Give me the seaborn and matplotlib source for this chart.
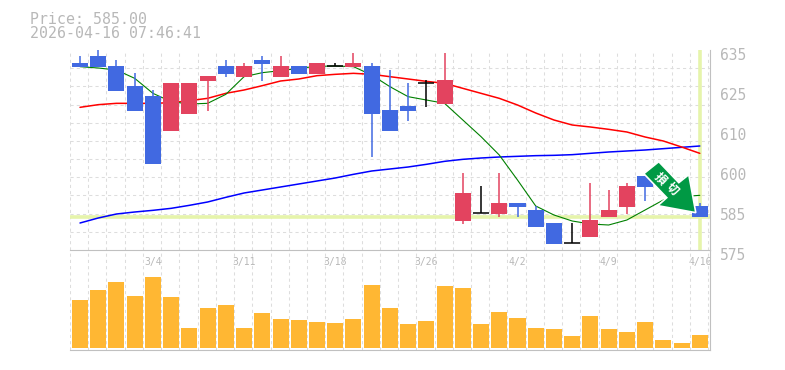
import numpy as np
import pandas as pd
import matplotlib.pyplot as plt
import seaborn as sns
from matplotlib.patches import Polygon
from matplotlib.transforms import IdentityTransform, ScaledTranslation

dates = ['3/4', '3/11', '3/18', '3/26', '4/2', '4/9', '4/16']
date_idx = [4, 9, 14, 19, 24, 29, 34]
price_ticks = [635, 623, 611, 599, 587, 575]
price_labels = ['635', '625', '610', '600', '585', '575']

open_ = [631.1, 633.2, 630.2, 624.2, 621.2, 610.7, 615.8, 625.7, 630.2, 626.9, 632.0, 626.9,
         630.2, 627.8, 630.2, 629.9, 630.2, 617.0, 618.2, 625.1, 618.8, 583.7, 586.0, 585.8,
         589.1, 587.0, 583.1, 577.0, 578.9, 584.9, 587.9, 597.2, 597.0, 589.0, 588.2]
close_ = [629.9, 629.9, 622.7, 616.7, 600.8, 625.1, 625.1, 627.2, 627.8, 630.2, 630.8, 630.2,
          627.8, 631.1, 630.2, 631.1, 615.8, 610.7, 616.7, 625.1, 626.0, 592.1, 586.0, 589.1,
          587.9, 581.9, 576.8, 577.0, 584.0, 587.0, 594.2, 593.9, 595.5, 588.0, 584.9]
high = [633.2, 635.0, 632.0, 628.1, 623.0, 625.1, 625.1, 627.2, 632.0, 631.1, 633.2, 633.2,
        630.2, 631.1, 631.1, 634.1, 631.1, 629.0, 625.1, 626.0, 634.1, 598.1, 594.2, 598.1,
        589.1, 588.2, 583.1, 583.1, 595.1, 593.0, 595.1, 597.2, 597.5, 589.0, 589.1]
low = [629.9, 629.9, 622.7, 616.7, 600.8, 610.7, 615.8, 616.7, 627.0, 626.9, 625.7, 626.9,
       627.8, 627.8, 630.2, 629.9, 602.9, 610.7, 613.7, 618.0, 618.8, 582.8, 586.0, 584.9,
       584.9, 581.9, 576.8, 577.0, 578.9, 584.9, 585.8, 589.7, 595.0, 588.0, 584.9]

ma_short = [630.0, 629.6, 629.0, 626.5, 622.0, 619.5, 618.8, 619.0, 621.7, 627.0, 628.2, 628.8,
            629.5, 630.1, 630.2, 630.0, 627.5, 624.0, 621.0, 620.0, 619.0, 614.0, 609.0, 603.5,
            596.0, 588.2, 585.5, 583.7, 582.8, 582.5, 584.0, 587.0, 590.0, 591.0, 591.4]
ma_mid = [617.8, 618.6, 619.0, 619.0, 619.0, 619.2, 619.8, 620.5, 622.0, 623.0, 624.3, 625.7,
          626.3, 627.3, 627.7, 628.0, 627.7, 627.0, 626.3, 625.6, 625.0, 623.5, 622.0, 620.5,
          618.5, 616.1, 614.0, 612.5, 611.9, 611.2, 610.4, 608.9, 607.7, 605.9, 604.0]
ma_long = [583.1, 584.6, 585.8, 586.4, 586.9, 587.5, 588.4, 589.4, 590.8, 592.1, 593.0, 593.9,
           594.8, 595.7, 596.6, 597.7, 598.7, 599.3, 599.9, 600.7, 601.6, 602.2, 602.6, 602.9,
           603.1, 603.3, 603.4, 603.6, 604.0, 604.4, 604.7, 605.0, 605.4, 605.8, 606.2]
volume = [48, 58, 66, 52, 71, 51, 20, 40, 43, 20, 35, 29, 28, 26, 25, 29, 63, 40, 24, 27, 62, 60,
          24, 36, 30, 20, 19, 12, 32, 19, 16, 26, 8, 5, 13]
last_price = 585

GREY = '#b8b8b8'
GRID = '#dddddd'
UP = '#e3435f'
DOWN = '#4169e1'
HILITE = '#e6f4ab'

sns.set_style('white')
plt.rcParams['font.family'] = ['DejaVu Sans Mono']

df = pd.DataFrame({'idx': np.arange(len(volume)), 'open': open_, 'close': close_, 'high': high,
                   'low': low, 'short': ma_short, 'mid': ma_mid, 'long': ma_long, 'volume': volume})

fig = plt.figure(figsize=(7.85, 3.7), dpi=100)
ax = fig.add_axes([70/785, 120/370, 640/785, 200/370])
ax2 = fig.add_axes([70/785, 20/370, 640/785, 100/370])
xlim = (-0.549, 34.56)

ax.axhline(last_price, color=HILITE, lw=2.6, zorder=1.5)
ax.axvline(34, color=HILITE, lw=2.6, zorder=1.5)

sns.lineplot(data=df, x='idx', y='long', color='#0000ff', lw=1.1, ax=ax, zorder=2)
sns.lineplot(data=df, x='idx', y='mid', color='#ff0000', lw=1.1, ax=ax, zorder=2)
sns.lineplot(data=df, x='idx', y='short', color='#008000', lw=0.8, ax=ax, zorder=2)

# candles, hidden ones too (the arrow sits on top of them)
for _, r in df.iterrows():
    if r['close'] > r['open']:
        col = UP
    elif r['close'] < r['open']:
        col = DOWN
    else:
        col = 'black'
    ax.vlines(r['idx'], r['low'], r['high'], color=col, lw=1.1, zorder=3)
    if col == 'black':
        ax.hlines(r['close'], r['idx']-0.44, r['idx']+0.44, color=col, lw=1.1, zorder=3)
    else:
        ax.bar(r['idx'], abs(r['close']-r['open']), bottom=min(r['open'], r['close']), width=0.88,
               color=col, zorder=3, linewidth=0)

ax.set_xlim(xlim)
ax.set_ylim(575, 635)
ax.set_xlabel('')
ax.set_ylabel('')

ax.set_xticks(date_idx)
ax.set_xticklabels(dates, fontsize=7, color=GREY)
ax.set_xticks(np.arange(36) + xlim[0], minor=True)
ax.set_yticks(price_ticks)
ax.set_yticklabels(price_labels, fontsize=10.5, color=GREY)
ax.set_yticks(np.linspace(575, 635, 12), minor=True)
ax.yaxis.tick_right()
ax.tick_params(axis='both', which='both', length=0)
ax.tick_params(axis='x', which='major', pad=5)
ax.tick_params(axis='y', which='major', pad=7)
ax.grid(False, which='major')
ax.grid(True, which='minor', color=GRID, ls='--', lw=0.75, dashes=(3, 3))
ax.set_axisbelow(True)
down = ScaledTranslation(0, -3/72, fig.dpi_scale_trans)
for lab in ax.get_yticklabels():
    lab.set_transform(lab.get_transform() + down)

# volume
sns.barplot(data=df, x='idx', y='volume', native_scale=True, width=0.88, color='#ffb733',
            saturation=1, linewidth=0, ax=ax2, zorder=3)
ax2.set_xlim(xlim)
ax2.set_ylim(-2, 98)
ax2.set_xlabel('')
ax2.set_ylabel('')
ax2.set_yticks([])
ax2.set_xticks(np.arange(36) + xlim[0])
ax2.set_xticklabels([])
ax2.tick_params(axis='x', length=0)
ax2.grid(True, axis='x', color=GRID, ls='--', lw=0.75, dashes=(3, 3))
ax2.set_axisbelow(True)
ax2.patch.set_visible(False)

for a in [ax, ax2]:
    for s in ['top', 'left']:
        a.spines[s].set_visible(False)
    for s in ['right', 'bottom']:
        a.spines[s].set_visible(True)
        a.spines[s].set_color('#c0c0c0')
        a.spines[s].set_linewidth(0.8)

# arrow pointing at the last candle
tip = ax.transData.transform((34, last_price))
arrow_off = np.array([[-4, 4], [-11, 42], [-21, 34], [-41, 55], [-56, 43], [-33, 19], [-42, 11]])
ax.add_patch(Polygon(tip + arrow_off, closed=True, transform=IdentityTransform(), facecolor='#009944',
                     edgecolor='white', lw=1.2, zorder=6, clip_on=False))
for ch, dx, dy in [('損', -40, 38), ('切', -28, 28)]:
    ax.text(tip[0]+dx, tip[1]+dy, ch, transform=IdentityTransform(), color='white', fontsize=8.5, rotation=-45,
            fontweight='bold', ha='center', va='center', rotation_mode='anchor', zorder=7,
            family=['Noto Sans CJK JP', 'DejaVu Sans'])

fig.text(30/785, 1-19/370, 'Price: 585.00', fontsize=10.7, color=GREY, va='center')
fig.text(30/785, 1-33/370, '2026-04-16 07:46:41', fontsize=10.7, color=GREY, va='center')

plt.savefig('out.png', dpi=100)
